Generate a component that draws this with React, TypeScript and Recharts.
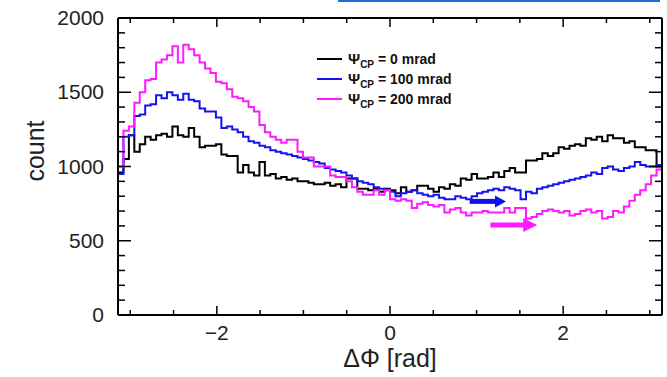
import React from 'react';
import { LineChart, Line, XAxis, YAxis, ReferenceLine } from 'recharts';

const PI = Math.PI;
const nBins = 100;

// bin contents (100 bins from -pi to pi)
const psi0 = [
  960, 1050, 1210, 1100, 1150, 1200, 1180, 1210, 1220, 1200,
  1270, 1210, 1200, 1260, 1200, 1130, 1140, 1140, 1150, 1080,
  1070, 1070, 960, 1010, 960, 940, 1030, 940, 950, 920,
  930, 910, 920, 900, 900, 890, 880, 880, 890, 870,
  880, 860, 920, 920, 850, 850, 840, 850, 830, 850,
  840, 820, 860, 830, 840, 870, 870, 850, 830, 860,
  850, 880, 870, 920, 910, 950, 920, 920, 930, 960,
  930, 970, 990, 960, 960, 1040, 1040, 1050, 1090, 1070,
  1090, 1130, 1120, 1140, 1150, 1140, 1190, 1180, 1200, 1170,
  1210, 1190, 1190, 1160, 1170, 1130, 1130, 1110, 1110, 1000,
];
const psi100 = [
  950, 1200, 1210, 1340, 1350, 1410, 1420, 1480, 1460, 1500,
  1480, 1450, 1490, 1450, 1440, 1390, 1370, 1370, 1330, 1260,
  1270, 1250, 1230, 1200, 1170, 1160, 1140, 1130, 1110, 1100,
  1090, 1080, 1070, 1060, 1050, 1040, 1030, 1020, 990, 980,
  970, 960, 940, 920, 900, 890, 880, 860, 850, 840,
  830, 800, 820, 830, 840, 820, 810, 800, 810, 790,
  780, 780, 800, 790, 780, 800, 820, 830, 840, 850,
  840, 860, 850, 840, 780, 830, 820, 850, 860, 870,
  880, 890, 900, 910, 920, 930, 940, 960, 950, 990,
  1000, 980, 970, 990, 1000, 1030, 1010, 1000, 1000, 1010,
];
const psi200 = [
  1000, 1240, 1270, 1430, 1500, 1580, 1590, 1700, 1720, 1750,
  1810, 1700, 1820, 1790, 1750, 1700, 1660, 1630, 1570, 1560,
  1520, 1470, 1460, 1440, 1400, 1370, 1280, 1230, 1200, 1180,
  1160, 1180, 1180, 1100, 1060, 1060, 1000, 1000, 1000, 940,
  930, 930, 900, 860, 830, 810, 810, 840, 810, 840,
  780, 770, 780, 770, 720, 750, 760, 740, 730, 740,
  690, 710, 720, 690, 670, 690, 690, 700, 690, 690,
  690, 720, 690, 720, 720, 650, 660, 680, 700, 710,
  700, 690, 700, 670, 680, 700, 710, 690, 700, 650,
  660, 700, 690, 730, 770, 810, 840, 880, 940, 980,
];

const xTicks = [-3, -2.5, -2, -1.5, -1, -0.5, 0, 0.5, 1, 1.5, 2, 2.5, 3];
const xMajor = [-2, 0, 2];
const yTicks = [
  0, 100, 200, 300, 400, 500, 600, 700, 800, 900, 1000,
  1100, 1200, 1300, 1400, 1500, 1600, 1700, 1800, 1900, 2000,
];
const yMajor = [0, 500, 1000, 1500, 2000];

const seriesNames = ['0 mrad', '100 mrad', '200 mrad'];
const seriesColors = ['#000000', '#1414f0', '#ff1aff'];

// arrows drawn in the plot (data coordinates)
const blueArrow = { from: 0.92, to: 1.34, y: 765 };
const pinkArrow = { from: 1.16, to: 1.7, y: 606 };

const data = Array.from({ length: nBins + 1 }, (_, i) => {
  const j = Math.min(i, nBins - 1);
  return { x: -PI + (i * 2 * PI) / nBins, a: psi0[j], b: psi100[j], c: psi200[j] };
});

const font = '"Liberation Sans", Arial, Helvetica, sans-serif';

const fmt = (v: number) => (v < 0 ? `\u2212${-v}` : `${v}`);

const BottomTick = ({ x, y, payload }: any) => {
  const major = xMajor.includes(payload.value);
  return (
    <g>
      <line x1={x} x2={x} y1={y} y2={y - (major ? 9 : 5)} stroke="#000" strokeWidth={1.5} />
      {major && (
        <text x={x} y={y + 25} textAnchor="middle" fontSize={21} fill="#222" fontFamily={font}>
          {fmt(payload.value)}
        </text>
      )}
    </g>
  );
};

const TopTick = ({ x, y, payload }: any) => {
  const major = xMajor.includes(payload.value);
  return <line x1={x} x2={x} y1={y} y2={y + (major ? 9 : 5)} stroke="#000" strokeWidth={1.5} />;
};

const LeftTick = ({ x, y, payload }: any) => {
  const major = yMajor.includes(payload.value);
  return (
    <g>
      <line x1={x} x2={x + (major ? 13 : 7)} y1={y} y2={y} stroke="#000" strokeWidth={1.5} />
      {major && (
        <text x={x - 14} y={y + 7} textAnchor="end" fontSize={21} fill="#222" fontFamily={font}>
          {payload.value}
        </text>
      )}
    </g>
  );
};

const RightTick = ({ x, y, payload }: any) => {
  const major = yMajor.includes(payload.value);
  return <line x1={x} x2={x - (major ? 13 : 7)} y1={y} y2={y} stroke="#000" strokeWidth={1.5} />;
};

const arrowShape = (color: string, head: number, half: number, width: number) => (p: any) => {
  const { x1, y1, x2 } = p;
  return (
    <g>
      <line x1={x1} y1={y1} x2={x2 - head + 1} y2={y1} stroke={color} strokeWidth={width} />
      <polygon points={`${x2},${y1} ${x2 - head},${y1 - half} ${x2 - head},${y1 + half}`} fill={color} />
    </g>
  );
};

const LegendBox = () => (
  <div
    style={{
      position: 'absolute',
      left: 317,
      top: 49,
      fontFamily: font,
      fontWeight: 'bold',
      color: '#111',
    }}
  >
    {seriesNames.map((name, i) => (
      <div key={name} style={{ display: 'flex', alignItems: 'center', height: 20 }}>
        <svg width={26} height={20}>
          <line x1={0} x2={25} y1={10} y2={10} stroke={seriesColors[i]} strokeWidth={2} />
        </svg>
        <span style={{ marginLeft: 5, fontSize: 15, lineHeight: '20px', whiteSpace: 'nowrap' }}>
          {'\u03A8'}
          <sub style={{ fontSize: 10, verticalAlign: -4, lineHeight: 1 }}>CP</sub>
          <span style={{ fontSize: 14 }}> = {name}</span>
        </span>
      </div>
    ))}
  </div>
);

export default function App() {
  return (
    <div style={{ position: 'absolute', left: 0, top: 0, width: 667, height: 377, background: '#fff' }}>
      <div style={{ position: 'absolute', left: 338, top: 0, width: 322, height: 2, background: '#1a6fd8' }} />
      <LineChart width={667} height={377} data={data} margin={{ top: 17, right: 0, bottom: 0, left: 0 }}>
        <XAxis
          xAxisId="b"
          dataKey="x"
          type="number"
          domain={[-PI, PI]}
          allowDataOverflow
          ticks={xTicks}
          interval={0}
          height={62}
          tickSize={0}
          tickMargin={0}
          tick={<BottomTick />}
          axisLine={{ stroke: '#000', strokeWidth: 2 }}
          label={(props: any) => {
            const vb = props.viewBox || { x: 118, y: 315, width: 544 };
            return (
              <text x={vb.x + vb.width / 2} y={vb.y + 52} textAnchor="middle" fontSize={25} fill="#222" fontFamily={font}>
                {'\u0394\u03A6 [rad]'}
              </text>
            );
          }}
        />
        <XAxis
          xAxisId="t"
          dataKey="x"
          type="number"
          orientation="top"
          domain={[-PI, PI]}
          allowDataOverflow
          ticks={xTicks}
          interval={0}
          height={1}
          tickSize={0}
          tickMargin={0}
          tick={<TopTick />}
          axisLine={{ stroke: '#000', strokeWidth: 2 }}
        />
        <YAxis
          yAxisId="l"
          type="number"
          domain={[0, 2000]}
          allowDataOverflow
          ticks={yTicks}
          interval={0}
          width={118}
          tickSize={0}
          tickMargin={0}
          tick={<LeftTick />}
          axisLine={{ stroke: '#000', strokeWidth: 2 }}
          label={(props: any) => {
            const vb = props.viewBox || { x: 0, y: 18 };
            return (
              <text
                x={vb.x + 35}
                y={vb.y + 133}
                transform={`rotate(-90 ${vb.x + 35} ${vb.y + 133})`}
                textAnchor="middle"
                dominantBaseline="central"
                fontSize={25}
                fill="#222"
                fontFamily={font}
              >
                count
              </text>
            );
          }}
        />
        <YAxis
          yAxisId="r"
          type="number"
          orientation="right"
          domain={[0, 2000]}
          allowDataOverflow
          ticks={yTicks}
          interval={0}
          width={5}
          tickSize={0}
          tickMargin={0}
          tick={<RightTick />}
          axisLine={{ stroke: '#000', strokeWidth: 2 }}
        />
        <Line xAxisId="b" yAxisId="l" type="stepAfter" dataKey="a" stroke={seriesColors[0]} strokeWidth={2} dot={false} isAnimationActive={false} />
        <Line xAxisId="b" yAxisId="l" type="stepAfter" dataKey="b" stroke={seriesColors[1]} strokeWidth={2} dot={false} isAnimationActive={false} />
        <Line xAxisId="b" yAxisId="l" type="stepAfter" dataKey="c" stroke={seriesColors[2]} strokeWidth={2} dot={false} isAnimationActive={false} />
        <ReferenceLine
          xAxisId="b"
          yAxisId="l"
          segment={[{ x: blueArrow.from, y: blueArrow.y }, { x: blueArrow.to, y: blueArrow.y }]}
          shape={arrowShape('#1010ee', 11, 6, 5)}
        />
        <ReferenceLine
          xAxisId="b"
          yAxisId="l"
          segment={[{ x: pinkArrow.from, y: pinkArrow.y }, { x: pinkArrow.to, y: pinkArrow.y }]}
          shape={arrowShape('#ff1aff', 14, 7, 5)}
        />
      </LineChart>
      <LegendBox />
    </div>
  );
}
